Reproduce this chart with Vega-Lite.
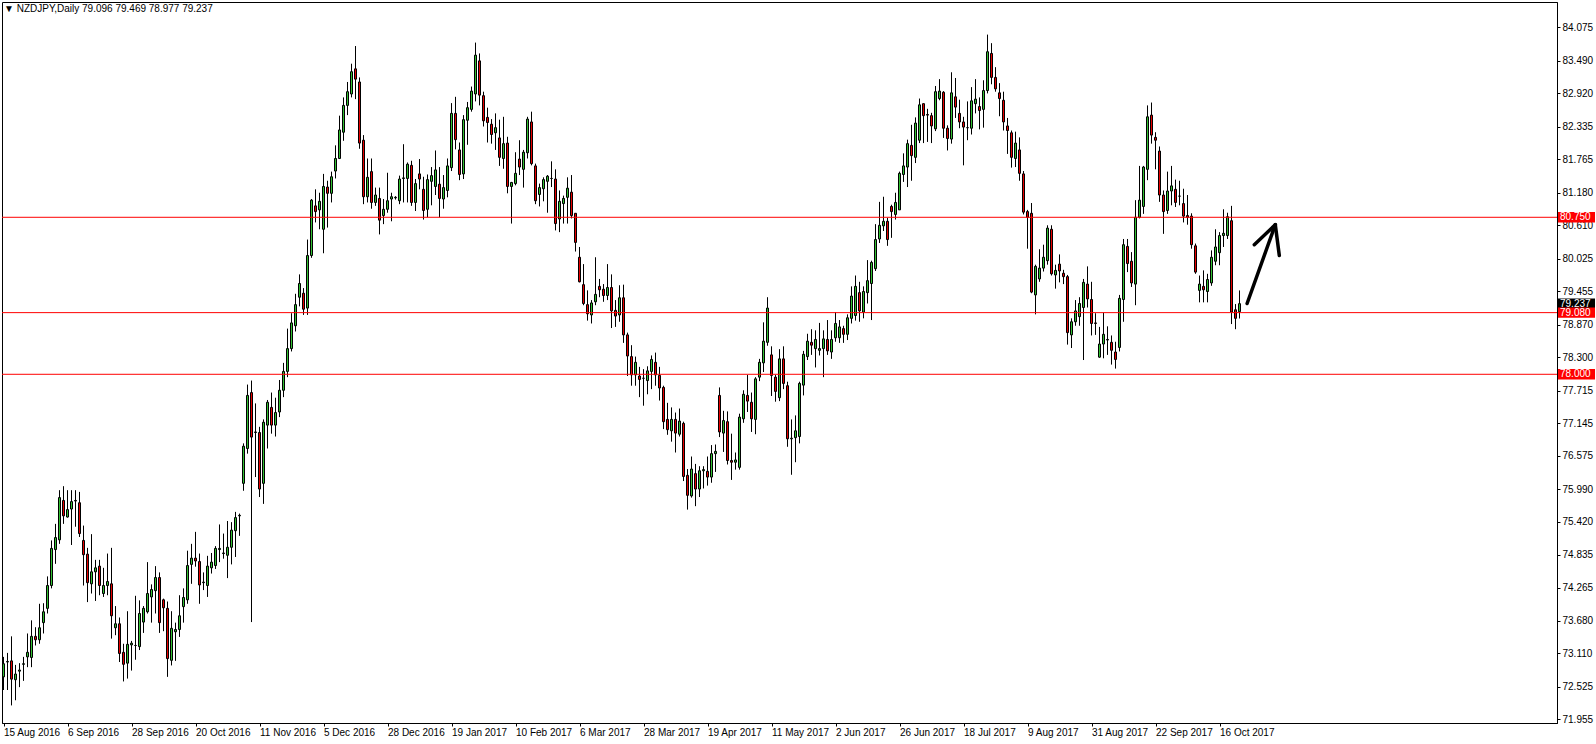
{
  "$schema": "https://vega.github.io/schema/vega-lite/v6.json",
  "autosize": {"type": "none"},
  "width": 1555,
  "height": 721,
  "padding": {"left": 2, "top": 2, "right": 39, "bottom": 21},
  "background": "white",
  "view": {"stroke": "black", "strokeWidth": 1},
  "title": {"text": "▼ NZDJPY,Daily  79.096 79.469 78.977 79.237", "anchor": "start", "frame": "group", "offset": -10, "baseline": "alphabetic", "dy": 10, "dx": 2, "font": "Liberation Sans", "fontSize": 10, "fontWeight": "normal", "color": "black"},
  "datasets": {
    "candles": [
      {"i":0,"o":72.70,"h":73.05,"l":72.47,"c":72.93},
      {"i":1,"o":72.96,"h":73.12,"l":72.47,"c":72.97},
      {"i":2,"o":72.98,"h":73.41,"l":72.20,"c":72.66},
      {"i":3,"o":72.65,"h":72.91,"l":72.29,"c":72.75},
      {"i":4,"o":72.80,"h":72.94,"l":72.52,"c":72.82},
      {"i":5,"o":72.92,"h":73.05,"l":72.63,"c":72.93},
      {"i":6,"o":73.05,"h":73.46,"l":72.87,"c":73.13},
      {"i":7,"o":73.04,"h":73.69,"l":72.87,"c":73.41},
      {"i":8,"o":73.41,"h":73.57,"l":73.25,"c":73.35},
      {"i":9,"o":73.35,"h":73.98,"l":73.28,"c":73.56},
      {"i":10,"o":73.65,"h":73.99,"l":73.46,"c":73.84},
      {"i":11,"o":73.90,"h":74.46,"l":73.81,"c":74.30},
      {"i":12,"o":74.30,"h":75.09,"l":74.25,"c":74.95},
      {"i":13,"o":74.93,"h":75.38,"l":74.68,"c":75.14},
      {"i":14,"o":75.10,"h":75.97,"l":75.03,"c":75.84},
      {"i":15,"o":75.79,"h":76.04,"l":75.38,"c":75.52},
      {"i":16,"o":75.50,"h":75.97,"l":75.49,"c":75.63},
      {"i":17,"o":75.64,"h":75.97,"l":75.01,"c":75.77},
      {"i":18,"o":75.78,"h":75.97,"l":75.33,"c":75.79},
      {"i":19,"o":75.75,"h":75.94,"l":75.15,"c":75.21},
      {"i":20,"o":75.09,"h":75.35,"l":74.30,"c":74.84},
      {"i":21,"o":74.85,"h":74.96,"l":74.01,"c":74.35},
      {"i":22,"o":74.33,"h":75.20,"l":74.16,"c":74.54},
      {"i":23,"o":74.54,"h":74.75,"l":74.03,"c":74.61},
      {"i":24,"o":74.64,"h":74.75,"l":74.13,"c":74.30},
      {"i":25,"o":74.16,"h":74.61,"l":74.10,"c":74.30},
      {"i":26,"o":74.30,"h":74.86,"l":74.13,"c":74.37},
      {"i":27,"o":74.33,"h":74.96,"l":73.37,"c":73.77},
      {"i":28,"o":73.56,"h":73.94,"l":73.43,"c":73.63},
      {"i":29,"o":73.63,"h":73.74,"l":72.96,"c":73.11},
      {"i":30,"o":73.13,"h":73.28,"l":72.62,"c":72.92},
      {"i":31,"o":72.94,"h":73.85,"l":72.67,"c":73.27},
      {"i":32,"o":73.26,"h":73.33,"l":72.81,"c":73.29},
      {"i":33,"o":73.25,"h":74.12,"l":73.00,"c":73.25},
      {"i":34,"o":73.23,"h":74.04,"l":73.17,"c":73.81},
      {"i":35,"o":73.66,"h":73.94,"l":73.47,"c":73.90},
      {"i":36,"o":73.84,"h":74.71,"l":73.81,"c":74.16},
      {"i":37,"o":74.10,"h":74.32,"l":73.65,"c":74.23},
      {"i":38,"o":74.21,"h":74.64,"l":73.81,"c":74.44},
      {"i":39,"o":74.44,"h":74.53,"l":73.47,"c":73.65},
      {"i":40,"o":74.05,"h":74.07,"l":73.50,"c":73.91},
      {"i":41,"o":73.90,"h":74.02,"l":72.70,"c":73.02},
      {"i":42,"o":72.99,"h":73.85,"l":72.90,"c":73.55},
      {"i":43,"o":73.49,"h":73.65,"l":72.98,"c":73.53},
      {"i":44,"o":73.53,"h":74.13,"l":73.40,"c":73.77},
      {"i":45,"o":73.93,"h":74.25,"l":73.65,"c":74.09},
      {"i":46,"o":74.05,"h":74.91,"l":73.98,"c":74.65},
      {"i":47,"o":74.67,"h":75.03,"l":74.33,"c":74.78},
      {"i":48,"o":74.78,"h":75.24,"l":74.63,"c":74.73},
      {"i":49,"o":74.72,"h":74.86,"l":73.98,"c":74.31},
      {"i":50,"o":74.35,"h":74.53,"l":74.22,"c":74.36},
      {"i":51,"o":74.30,"h":74.82,"l":74.10,"c":74.64},
      {"i":52,"o":74.61,"h":74.87,"l":74.51,"c":74.71},
      {"i":53,"o":74.65,"h":74.99,"l":74.59,"c":74.95},
      {"i":54,"o":74.93,"h":75.37,"l":74.71,"c":74.95},
      {"i":55,"o":74.86,"h":75.21,"l":74.77,"c":74.87},
      {"i":56,"o":74.83,"h":75.43,"l":74.43,"c":74.97},
      {"i":57,"o":74.97,"h":75.41,"l":74.67,"c":75.27},
      {"i":58,"o":75.26,"h":75.59,"l":74.80,"c":75.49},
      {"i":59,"o":75.52,"h":75.56,"l":75.17,"c":75.53},
      {"i":60,"o":76.09,"h":76.79,"l":75.96,"c":76.74},
      {"i":61,"o":76.70,"h":77.82,"l":76.61,"c":77.63},
      {"i":62,"o":77.68,"h":77.89,"l":73.66,"c":76.90},
      {"i":63,"o":76.98,"h":77.49,"l":76.20,"c":76.99},
      {"i":64,"o":76.98,"h":77.08,"l":75.85,"c":75.99},
      {"i":65,"o":76.09,"h":77.21,"l":75.73,"c":77.16},
      {"i":66,"o":77.11,"h":77.55,"l":76.70,"c":77.51},
      {"i":67,"o":77.42,"h":77.68,"l":76.96,"c":77.11},
      {"i":68,"o":77.11,"h":77.59,"l":76.91,"c":77.33},
      {"i":69,"o":77.34,"h":77.90,"l":77.25,"c":77.72},
      {"i":70,"o":77.72,"h":78.20,"l":77.60,"c":78.05},
      {"i":71,"o":78.05,"h":78.80,"l":77.95,"c":78.45},
      {"i":72,"o":78.45,"h":79.07,"l":78.40,"c":78.90},
      {"i":73,"o":78.85,"h":79.41,"l":78.75,"c":79.22},
      {"i":74,"o":79.35,"h":79.75,"l":79.19,"c":79.59},
      {"i":75,"o":79.42,"h":79.51,"l":79.04,"c":79.14},
      {"i":76,"o":79.16,"h":80.36,"l":79.04,"c":80.08},
      {"i":77,"o":80.08,"h":81.07,"l":80.04,"c":81.05},
      {"i":78,"o":80.95,"h":81.24,"l":80.66,"c":80.85},
      {"i":79,"o":80.88,"h":81.18,"l":80.54,"c":81.03},
      {"i":80,"o":80.54,"h":81.51,"l":80.12,"c":81.29},
      {"i":81,"o":81.28,"h":81.39,"l":80.57,"c":81.17},
      {"i":82,"o":81.17,"h":81.55,"l":81.01,"c":81.46},
      {"i":83,"o":81.56,"h":82.01,"l":81.43,"c":81.78},
      {"i":84,"o":81.78,"h":82.53,"l":81.77,"c":82.28},
      {"i":85,"o":82.24,"h":82.85,"l":82.09,"c":82.71},
      {"i":86,"o":82.71,"h":83.12,"l":82.54,"c":82.95},
      {"i":87,"o":82.91,"h":83.44,"l":82.85,"c":83.30},
      {"i":88,"o":83.35,"h":83.75,"l":82.82,"c":83.17},
      {"i":89,"o":83.12,"h":83.20,"l":81.95,"c":82.05},
      {"i":90,"o":82.10,"h":82.19,"l":80.98,"c":81.11},
      {"i":91,"o":81.11,"h":81.78,"l":81.01,"c":81.45},
      {"i":92,"o":81.55,"h":81.78,"l":80.90,"c":81.01},
      {"i":93,"o":81.01,"h":81.27,"l":80.95,"c":81.14},
      {"i":94,"o":81.08,"h":81.27,"l":80.45,"c":80.70},
      {"i":95,"o":80.78,"h":81.07,"l":80.63,"c":80.89},
      {"i":96,"o":80.89,"h":81.53,"l":80.83,"c":81.04},
      {"i":97,"o":81.07,"h":81.18,"l":80.68,"c":81.11},
      {"i":98,"o":81.09,"h":81.12,"l":81.06,"c":81.10},
      {"i":99,"o":81.04,"h":81.48,"l":80.98,"c":81.42},
      {"i":100,"o":81.43,"h":82.03,"l":81.01,"c":81.44},
      {"i":101,"o":81.43,"h":81.71,"l":81.01,"c":81.68},
      {"i":102,"o":81.66,"h":81.74,"l":80.95,"c":81.01},
      {"i":103,"o":81.01,"h":81.42,"l":80.86,"c":81.34},
      {"i":104,"o":81.51,"h":81.77,"l":81.24,"c":81.42},
      {"i":105,"o":81.24,"h":81.46,"l":80.71,"c":80.87},
      {"i":106,"o":80.89,"h":81.50,"l":80.75,"c":81.41},
      {"i":107,"o":81.38,"h":81.63,"l":80.96,"c":81.48},
      {"i":108,"o":81.29,"h":81.92,"l":81.14,"c":81.58},
      {"i":109,"o":81.33,"h":81.63,"l":80.75,"c":81.08},
      {"i":110,"o":81.07,"h":81.49,"l":80.90,"c":81.27},
      {"i":111,"o":81.22,"h":81.78,"l":81.10,"c":81.65},
      {"i":112,"o":81.62,"h":82.75,"l":81.56,"c":82.57},
      {"i":113,"o":82.57,"h":82.86,"l":81.94,"c":82.11},
      {"i":114,"o":81.93,"h":82.06,"l":81.40,"c":81.50},
      {"i":115,"o":81.51,"h":82.54,"l":81.42,"c":82.46},
      {"i":116,"o":82.45,"h":82.77,"l":82.02,"c":82.67},
      {"i":117,"o":82.64,"h":83.04,"l":82.60,"c":82.96},
      {"i":118,"o":82.91,"h":83.81,"l":82.78,"c":83.59},
      {"i":119,"o":83.49,"h":83.62,"l":82.71,"c":82.89},
      {"i":120,"o":82.88,"h":82.95,"l":82.34,"c":82.44},
      {"i":121,"o":82.50,"h":82.67,"l":82.06,"c":82.41},
      {"i":122,"o":82.38,"h":82.47,"l":82.04,"c":82.20},
      {"i":123,"o":82.23,"h":82.57,"l":81.93,"c":82.32},
      {"i":124,"o":82.14,"h":82.46,"l":81.65,"c":81.80},
      {"i":125,"o":81.78,"h":82.51,"l":81.60,"c":82.04},
      {"i":126,"o":82.05,"h":82.16,"l":81.17,"c":81.29},
      {"i":127,"o":81.29,"h":81.37,"l":80.64,"c":81.36},
      {"i":128,"o":81.34,"h":81.89,"l":81.31,"c":81.52},
      {"i":129,"o":81.77,"h":82.10,"l":81.49,"c":81.63},
      {"i":130,"o":81.59,"h":81.93,"l":81.27,"c":81.89},
      {"i":131,"o":81.88,"h":82.51,"l":81.78,"c":82.47},
      {"i":132,"o":82.42,"h":82.60,"l":81.66,"c":81.69},
      {"i":133,"o":81.65,"h":81.69,"l":80.98,"c":81.04},
      {"i":134,"o":81.15,"h":81.34,"l":80.94,"c":81.27},
      {"i":135,"o":81.25,"h":81.45,"l":81.03,"c":81.41},
      {"i":136,"o":81.38,"h":81.49,"l":80.83,"c":81.47},
      {"i":137,"o":81.43,"h":81.73,"l":81.28,"c":81.43},
      {"i":138,"o":81.42,"h":81.59,"l":80.52,"c":80.64},
      {"i":139,"o":80.72,"h":81.22,"l":80.49,"c":81.03},
      {"i":140,"o":80.99,"h":81.13,"l":80.64,"c":81.08},
      {"i":141,"o":81.10,"h":81.45,"l":80.64,"c":81.26},
      {"i":142,"o":81.19,"h":81.49,"l":80.73,"c":80.78},
      {"i":143,"o":80.82,"h":80.82,"l":80.15,"c":80.31},
      {"i":144,"o":80.05,"h":80.23,"l":79.61,"c":79.62},
      {"i":145,"o":79.57,"h":79.93,"l":79.21,"c":79.24},
      {"i":146,"o":79.22,"h":79.47,"l":78.94,"c":79.06},
      {"i":147,"o":79.04,"h":79.30,"l":78.89,"c":79.25},
      {"i":148,"o":79.27,"h":80.05,"l":79.21,"c":79.40},
      {"i":149,"o":79.54,"h":79.67,"l":79.35,"c":79.48},
      {"i":150,"o":79.49,"h":79.58,"l":79.27,"c":79.38},
      {"i":151,"o":79.38,"h":79.93,"l":79.30,"c":79.52},
      {"i":152,"o":79.52,"h":79.75,"l":78.81,"c":79.11},
      {"i":153,"o":79.12,"h":79.30,"l":78.83,"c":79.02},
      {"i":154,"o":79.04,"h":79.56,"l":78.92,"c":79.34},
      {"i":155,"o":79.34,"h":79.57,"l":78.55,"c":78.69},
      {"i":156,"o":78.69,"h":78.73,"l":77.97,"c":78.32},
      {"i":157,"o":78.31,"h":78.51,"l":77.80,"c":77.99},
      {"i":158,"o":77.99,"h":78.31,"l":77.80,"c":78.21},
      {"i":159,"o":77.97,"h":78.13,"l":77.60,"c":77.91},
      {"i":160,"o":77.93,"h":78.09,"l":77.45,"c":77.93},
      {"i":161,"o":77.89,"h":78.14,"l":77.65,"c":78.06},
      {"i":162,"o":78.05,"h":78.33,"l":77.74,"c":78.26},
      {"i":163,"o":78.21,"h":78.38,"l":77.80,"c":77.99},
      {"i":164,"o":77.98,"h":78.13,"l":77.54,"c":77.76},
      {"i":165,"o":77.77,"h":77.80,"l":77.04,"c":77.17},
      {"i":166,"o":77.21,"h":77.50,"l":76.94,"c":77.03},
      {"i":167,"o":77.01,"h":77.42,"l":76.82,"c":77.21},
      {"i":168,"o":77.21,"h":77.33,"l":76.63,"c":76.97},
      {"i":169,"o":76.95,"h":77.40,"l":76.91,"c":77.18},
      {"i":170,"o":77.14,"h":77.17,"l":76.13,"c":76.21},
      {"i":171,"o":76.23,"h":76.34,"l":75.63,"c":75.88},
      {"i":172,"o":75.87,"h":76.56,"l":75.84,"c":76.34},
      {"i":173,"o":76.26,"h":76.43,"l":75.69,"c":75.99},
      {"i":174,"o":75.99,"h":76.39,"l":75.85,"c":76.31},
      {"i":175,"o":76.31,"h":76.39,"l":76.00,"c":76.33},
      {"i":176,"o":76.30,"h":76.56,"l":76.05,"c":76.20},
      {"i":177,"o":76.20,"h":76.76,"l":76.10,"c":76.61},
      {"i":178,"o":76.61,"h":76.77,"l":76.29,"c":76.65},
      {"i":179,"o":77.63,"h":77.77,"l":76.90,"c":76.99},
      {"i":180,"o":76.97,"h":77.36,"l":76.64,"c":77.19},
      {"i":181,"o":77.17,"h":77.35,"l":76.42,"c":76.49},
      {"i":182,"o":76.49,"h":76.96,"l":76.15,"c":76.46},
      {"i":183,"o":76.46,"h":76.63,"l":76.33,"c":76.50},
      {"i":184,"o":76.37,"h":77.31,"l":76.33,"c":77.25},
      {"i":185,"o":77.22,"h":77.72,"l":77.15,"c":77.65},
      {"i":186,"o":77.63,"h":77.99,"l":77.34,"c":77.53},
      {"i":187,"o":77.51,"h":77.68,"l":76.99,"c":77.22},
      {"i":188,"o":77.21,"h":77.95,"l":76.95,"c":77.92},
      {"i":189,"o":77.95,"h":78.27,"l":77.88,"c":78.21},
      {"i":190,"o":78.20,"h":78.91,"l":78.04,"c":78.58},
      {"i":191,"o":78.56,"h":79.35,"l":78.50,"c":79.16},
      {"i":192,"o":78.34,"h":78.49,"l":77.62,"c":77.98},
      {"i":193,"o":77.95,"h":77.99,"l":77.52,"c":77.70},
      {"i":194,"o":77.59,"h":78.44,"l":77.53,"c":78.27},
      {"i":195,"o":78.27,"h":78.49,"l":77.74,"c":77.84},
      {"i":196,"o":77.80,"h":77.87,"l":76.73,"c":76.87},
      {"i":197,"o":76.87,"h":77.21,"l":76.24,"c":76.88},
      {"i":198,"o":76.89,"h":77.28,"l":76.46,"c":77.01},
      {"i":199,"o":76.91,"h":77.87,"l":76.79,"c":77.84},
      {"i":200,"o":77.81,"h":78.41,"l":77.63,"c":78.35},
      {"i":201,"o":78.31,"h":78.71,"l":78.25,"c":78.58},
      {"i":202,"o":78.56,"h":78.79,"l":78.34,"c":78.51},
      {"i":203,"o":78.45,"h":78.77,"l":78.12,"c":78.61},
      {"i":204,"o":78.42,"h":78.90,"l":78.33,"c":78.45},
      {"i":205,"o":78.45,"h":78.77,"l":77.95,"c":78.62},
      {"i":206,"o":78.61,"h":78.95,"l":78.34,"c":78.41},
      {"i":207,"o":78.39,"h":78.77,"l":78.27,"c":78.61},
      {"i":208,"o":78.64,"h":79.09,"l":78.57,"c":78.89},
      {"i":209,"o":78.64,"h":78.95,"l":78.55,"c":78.83},
      {"i":210,"o":78.80,"h":78.85,"l":78.55,"c":78.70},
      {"i":211,"o":78.70,"h":79.05,"l":78.60,"c":78.99},
      {"i":212,"o":78.98,"h":79.54,"l":78.89,"c":79.37},
      {"i":213,"o":79.03,"h":79.73,"l":78.94,"c":79.54},
      {"i":214,"o":79.43,"h":79.62,"l":78.92,"c":79.11},
      {"i":215,"o":79.09,"h":79.54,"l":78.98,"c":79.45},
      {"i":216,"o":79.43,"h":80.00,"l":79.24,"c":79.64},
      {"i":217,"o":79.59,"h":79.99,"l":78.95,"c":79.96},
      {"i":218,"o":79.85,"h":80.63,"l":79.81,"c":80.36},
      {"i":219,"o":80.37,"h":81.02,"l":80.30,"c":80.61},
      {"i":220,"o":80.60,"h":81.11,"l":80.51,"c":80.68},
      {"i":221,"o":80.68,"h":80.74,"l":80.25,"c":80.36},
      {"i":222,"o":80.94,"h":80.97,"l":80.39,"c":80.85},
      {"i":223,"o":80.80,"h":81.18,"l":80.71,"c":81.01},
      {"i":224,"o":80.88,"h":81.55,"l":80.88,"c":81.52},
      {"i":225,"o":81.50,"h":81.87,"l":81.37,"c":81.65},
      {"i":226,"o":81.63,"h":82.11,"l":81.28,"c":82.04},
      {"i":227,"o":82.01,"h":82.37,"l":81.39,"c":81.83},
      {"i":228,"o":81.80,"h":82.50,"l":81.70,"c":82.40},
      {"i":229,"o":82.10,"h":82.83,"l":82.05,"c":82.72},
      {"i":230,"o":82.74,"h":82.74,"l":82.05,"c":82.53},
      {"i":231,"o":82.55,"h":82.65,"l":82.07,"c":82.54},
      {"i":232,"o":82.53,"h":82.58,"l":82.05,"c":82.35},
      {"i":233,"o":82.30,"h":83.05,"l":82.26,"c":82.95},
      {"i":234,"o":82.83,"h":83.17,"l":82.80,"c":82.96},
      {"i":235,"o":82.94,"h":82.96,"l":82.14,"c":82.31},
      {"i":236,"o":82.31,"h":82.36,"l":81.92,"c":82.13},
      {"i":237,"o":82.12,"h":83.29,"l":82.04,"c":82.93},
      {"i":238,"o":82.86,"h":83.19,"l":82.49,"c":82.68},
      {"i":239,"o":82.57,"h":82.81,"l":82.31,"c":82.42},
      {"i":240,"o":82.42,"h":82.51,"l":81.66,"c":82.33},
      {"i":241,"o":82.32,"h":82.78,"l":82.10,"c":82.32},
      {"i":242,"o":82.31,"h":83.03,"l":82.20,"c":82.79},
      {"i":243,"o":82.74,"h":83.17,"l":82.57,"c":82.82},
      {"i":244,"o":82.69,"h":82.85,"l":82.29,"c":82.62},
      {"i":245,"o":82.64,"h":83.15,"l":82.32,"c":82.97},
      {"i":246,"o":82.97,"h":83.95,"l":82.92,"c":83.65},
      {"i":247,"o":83.62,"h":83.80,"l":83.08,"c":83.20},
      {"i":248,"o":83.20,"h":83.38,"l":82.95,"c":83.00},
      {"i":249,"o":82.93,"h":83.10,"l":82.52,"c":82.83},
      {"i":250,"o":82.80,"h":82.95,"l":82.27,"c":82.42},
      {"i":251,"o":82.35,"h":82.49,"l":81.86,"c":82.27},
      {"i":252,"o":82.23,"h":82.27,"l":81.62,"c":81.80},
      {"i":253,"o":81.78,"h":82.25,"l":81.63,"c":82.05},
      {"i":254,"o":81.93,"h":82.15,"l":81.39,"c":81.52},
      {"i":255,"o":81.51,"h":81.56,"l":80.80,"c":80.84},
      {"i":256,"o":80.85,"h":80.88,"l":80.20,"c":80.75},
      {"i":257,"o":80.82,"h":81.00,"l":79.42,"c":79.44},
      {"i":258,"o":79.39,"h":79.92,"l":79.05,"c":79.89},
      {"i":259,"o":79.67,"h":80.19,"l":79.62,"c":79.86},
      {"i":260,"o":79.86,"h":80.27,"l":79.80,"c":80.05},
      {"i":261,"o":79.99,"h":80.61,"l":79.92,"c":80.56},
      {"i":262,"o":80.54,"h":80.61,"l":79.73,"c":79.76},
      {"i":263,"o":79.74,"h":79.92,"l":79.50,"c":79.82},
      {"i":264,"o":79.93,"h":80.10,"l":79.61,"c":79.81},
      {"i":265,"o":79.77,"h":79.83,"l":79.58,"c":79.71},
      {"i":266,"o":79.71,"h":79.74,"l":78.52,"c":78.73},
      {"i":267,"o":78.69,"h":78.98,"l":78.46,"c":78.92},
      {"i":268,"o":78.92,"h":79.30,"l":78.85,"c":79.11},
      {"i":269,"o":79.01,"h":79.35,"l":78.85,"c":79.24},
      {"i":270,"o":79.17,"h":79.67,"l":78.25,"c":79.61},
      {"i":271,"o":79.58,"h":79.89,"l":79.17,"c":79.32},
      {"i":272,"o":79.31,"h":79.62,"l":78.68,"c":78.89},
      {"i":273,"o":78.90,"h":79.07,"l":78.69,"c":78.89},
      {"i":274,"o":78.30,"h":78.83,"l":78.29,"c":78.53},
      {"i":275,"o":78.53,"h":79.08,"l":78.28,"c":78.70},
      {"i":276,"o":78.60,"h":78.84,"l":78.34,"c":78.61},
      {"i":277,"o":78.56,"h":78.68,"l":78.17,"c":78.42},
      {"i":278,"o":78.39,"h":78.57,"l":78.10,"c":78.26},
      {"i":279,"o":78.47,"h":79.39,"l":78.40,"c":79.33},
      {"i":280,"o":79.31,"h":80.37,"l":78.92,"c":80.27},
      {"i":281,"o":80.24,"h":80.37,"l":79.79,"c":79.94},
      {"i":282,"o":79.98,"h":80.14,"l":79.53,"c":79.60},
      {"i":283,"o":79.58,"h":81.05,"l":79.21,"c":80.75},
      {"i":284,"o":80.75,"h":81.65,"l":80.73,"c":81.05},
      {"i":285,"o":80.94,"h":81.65,"l":80.81,"c":81.63},
      {"i":286,"o":81.59,"h":82.71,"l":81.40,"c":82.51},
      {"i":287,"o":82.54,"h":82.76,"l":82.04,"c":82.19},
      {"i":288,"o":82.15,"h":82.24,"l":81.59,"c":82.10},
      {"i":289,"o":81.91,"h":81.99,"l":81.02,"c":81.14},
      {"i":290,"o":81.14,"h":81.22,"l":80.46,"c":80.85},
      {"i":291,"o":80.87,"h":81.55,"l":80.81,"c":81.21},
      {"i":292,"o":81.21,"h":81.65,"l":80.96,"c":81.30},
      {"i":293,"o":81.24,"h":81.41,"l":80.93,"c":81.01},
      {"i":294,"o":81.12,"h":81.39,"l":80.96,"c":81.12},
      {"i":295,"o":80.99,"h":81.25,"l":80.66,"c":80.77},
      {"i":296,"o":80.78,"h":81.14,"l":80.62,"c":80.75},
      {"i":297,"o":80.77,"h":80.82,"l":80.20,"c":80.27},
      {"i":298,"o":80.25,"h":80.29,"l":79.76,"c":79.79},
      {"i":299,"o":79.47,"h":79.73,"l":79.26,"c":79.58},
      {"i":300,"o":79.54,"h":79.82,"l":79.26,"c":79.48},
      {"i":301,"o":79.45,"h":79.76,"l":79.26,"c":79.66},
      {"i":302,"o":79.60,"h":80.17,"l":79.55,"c":80.05},
      {"i":303,"o":79.98,"h":80.54,"l":79.91,"c":80.23},
      {"i":304,"o":80.13,"h":80.49,"l":79.91,"c":80.43},
      {"i":305,"o":80.43,"h":80.89,"l":80.23,"c":80.47},
      {"i":306,"o":80.43,"h":80.83,"l":80.37,"c":80.76},
      {"i":307,"o":80.69,"h":80.95,"l":78.88,"c":79.09},
      {"i":308,"o":79.13,"h":79.23,"l":78.79,"c":78.98},
      {"i":309,"o":79.096,"h":79.469,"l":78.977,"c":79.237}
    ],
    "levels": [
      {"p": 80.75, "t": "80.750", "kind": "level"},
      {"p": 79.08, "t": "79.080", "kind": "level"},
      {"p": 78.0, "t": "78.000", "kind": "level"}
    ],
    "tags": [
      {"p": 79.237, "t": "79.237", "kind": "bid"},
      {"p": 80.75, "t": "80.750", "kind": "level"},
      {"p": 79.08, "t": "79.080", "kind": "level"},
      {"p": 78.0, "t": "78.000", "kind": "level"}
    ],
    "arrow": [
      {"ax": 310.9, "ay": 79.24, "bx": 317.95, "by": 80.62},
      {"ax": 312.7, "ay": 80.27, "bx": 317.95, "by": 80.62},
      {"ax": 317.95, "ay": 80.62, "bx": 318.95, "by": 80.08}
    ]
  },
  "layer": [
    {
      "data": {"name": "candles"},
      "mark": {"type": "rule", "color": "black", "strokeWidth": 1},
      "encoding": {
        "x": {"field": "i", "type": "quantitative",
          "scale": {"domain": [-0.375, 388.375], "nice": false, "zero": false, "padding": 0},
          "axis": {"orient": "bottom", "title": null, "grid": false,
            "values": [0,16,32,48,64,80,96,112,128,144,160,176,192,208,224,240,256,272,288,304],
            "tickCount": 60,
            "labelExpr": "['15 Aug 2016','6 Sep 2016','28 Sep 2016','20 Oct 2016','11 Nov 2016','5 Dec 2016','28 Dec 2016','19 Jan 2017','10 Feb 2017','6 Mar 2017','28 Mar 2017','19 Apr 2017','11 May 2017','2 Jun 2017','26 Jun 2017','18 Jul 2017','9 Aug 2017','31 Aug 2017','22 Sep 2017','16 Oct 2017'][round(datum.value/16)]",
            "domain": true, "domainColor": "black", "ticks": true, "tickColor": "black", "tickSize": 3,
            "labelAlign": "left", "labelBaseline": "top", "labelPadding": 1, "labelFlush": false, "labelOverlap": false, "labelBound": false,
            "labelFont": "Liberation Sans", "labelFontSize": 10, "labelColor": "black"}},
        "y": {"field": "l", "type": "quantitative",
          "scale": {"domain": [71.892, 84.521], "nice": false, "zero": false, "padding": 0},
          "axis": {"orient": "right", "title": null, "grid": false,
            "values": [84.075,83.49,82.92,82.335,81.765,81.18,80.61,80.025,79.455,78.87,78.3,77.715,77.145,76.575,75.99,75.42,74.835,74.265,73.68,73.11,72.525,71.955],
            "tickCount": 60,
            "format": ".3f", "domain": true, "domainColor": "black", "ticks": true, "tickColor": "black", "tickSize": 3,
            "labelPadding": 2, "labelFlush": false, "labelOverlap": false, "labelBound": false,
            "labelFont": "Liberation Sans", "labelFontSize": 10, "labelColor": "black"}},
        "y2": {"field": "h"}
      }
    },
    {
      "data": {"name": "candles"},
      "mark": {"type": "bar", "width": 2, "stroke": "black", "strokeWidth": 1, "opacity": 1},
      "encoding": {
        "x": {"field": "i", "type": "quantitative"},
        "y": {"field": "o", "type": "quantitative"},
        "y2": {"field": "c"},
        "fill": {"condition": {"test": "datum.c >= datum.o", "value": "#32c032"}, "value": "#e60000"}
      }
    },
    {
      "data": {"name": "levels"},
      "mark": {"type": "rule", "color": "#ff0000", "strokeWidth": 1},
      "encoding": {
        "y": {"field": "p", "type": "quantitative"}
      }
    },
    {
      "data": {"name": "arrow"},
      "mark": {"type": "rule", "color": "black", "strokeWidth": 3.5, "strokeCap": "round"},
      "encoding": {
        "x": {"field": "ax", "type": "quantitative"},
        "y": {"field": "ay", "type": "quantitative"},
        "x2": {"field": "bx"},
        "y2": {"field": "by"}
      }
    },
    {
      "data": {"name": "tags"},
      "mark": {"type": "point", "shape": "M-1,-0.28H1V0.28H-1Z", "size": 1369, "filled": true, "opacity": 1, "strokeWidth": 0, "xOffset": 19.5, "clip": false},
      "encoding": {
        "x": {"datum": 388.375, "type": "quantitative"},
        "y": {"field": "p", "type": "quantitative"},
        "color": {"condition": {"test": "datum.kind == 'bid'", "value": "black"}, "value": "#ff0000"}
      }
    },
    {
      "data": {"name": "tags"},
      "mark": {"type": "text", "align": "left", "baseline": "middle", "dx": 3, "font": "Liberation Sans", "fontSize": 10, "color": "white", "clip": false},
      "encoding": {
        "x": {"datum": 388.375, "type": "quantitative"},
        "y": {"field": "p", "type": "quantitative"},
        "text": {"field": "t"}
      }
    }
  ]
}
